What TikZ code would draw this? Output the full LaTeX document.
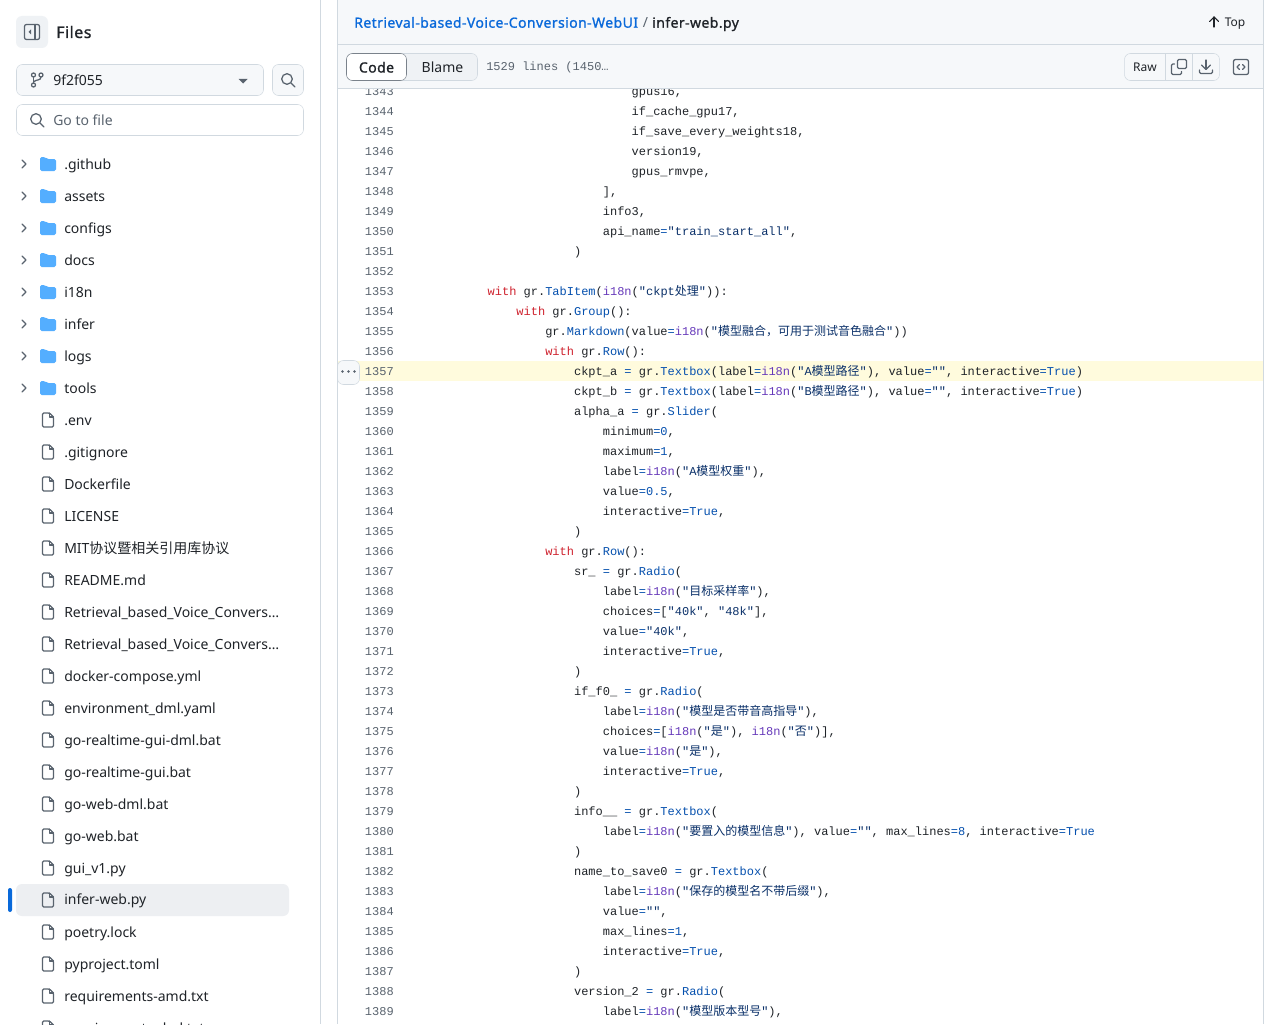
\documentclass[tikz,border=0pt]{standalone}
\usepackage{fontspec}
\setmainfont{Noto Sans}
\setmonofont{Liberation Mono}
\newfontfamily\cjk{Noto Sans CJK SC}
\newfontfamily\heavy[FakeBold=1.1,LetterSpace=3]{Noto Sans}
\definecolor{ink}{HTML}{1F2328}
\definecolor{muted}{HTML}{59636E}
\definecolor{edge}{HTML}{D1D9E0}
\definecolor{panel}{HTML}{F6F8FA}
\definecolor{press}{HTML}{EFF2F5}
\definecolor{linkblue}{HTML}{0969DA}
\definecolor{folderblue}{HTML}{54AEFF}
\definecolor{selected}{HTML}{EDEFF2}
\definecolor{hilite}{HTML}{FFFBDD}
\definecolor{kwdred}{HTML}{CF222E}
\definecolor{fncblue}{HTML}{0550AE}
\definecolor{strblue}{HTML}{0A3069}
\definecolor{itnpurple}{HTML}{6639BA}
\newcommand{\kwd}[1]{\textcolor{kwdred}{#1}}
\newcommand{\fnc}[1]{\textcolor{fncblue}{#1}}
\newcommand{\txt}[1]{\textcolor{strblue}{#1}}
\newcommand{\itn}{\textcolor{itnpurple}{i18n}}
\newcommand{\eqs}{\textcolor{fncblue}{=}}
\newcommand{\zh}[1]{{\cjk #1}}
\def\codeline(#1:#2)#3{
	\node[lineno] (num#1) at (394, {(#1-1344)*20+115}) {#1};
	\node[codetext] (code#1) at ({401+7.2*#2}, {(#1-1344)*20+115}) {#3};
}
\tikzset{
	x=0.75pt, y=-0.75pt,
	lineno/.style={anchor=base east, inner sep=0pt, font=\ttfamily\fontsize{9pt}{11pt}\selectfont, text=muted},
	codetext/.style={anchor=base west, inner sep=0pt, font=\ttfamily\fontsize{9pt}{11pt}\selectfont, text=ink},
	sidetext/.style={anchor=base west, inner sep=0pt, font=\fontsize{10.5pt}{13pt}\selectfont, text=ink},
	strongtext/.style={anchor=base west, inner sep=0pt, font=\heavy\fontsize{10.5pt}{13pt}\selectfont, text=ink},
	smalltext/.style={anchor=base, inner sep=0pt, font=\fontsize{9pt}{11pt}\selectfont, text=ink},
	glyph/.style={draw=muted, line width=0.95pt, line cap=round, line join=round},
	fileicon/.pic={
		\draw[glyph, rounded corners=0.9pt] (-5.5,-7) -- (1.5,-7) -- (5.5,-3) -- (5.5,7) -- (-5.5,7) -- cycle;
		\draw[glyph] (1.5,-7) -- (1.5,-3) -- (5.5,-3);
	},
	foldericon/.pic={
		\fill[folderblue, rounded corners=1.2pt] (-8,-7) -- (-3,-7) -- (-1,-5) -- (8,-5) -- (8,7) -- (-8,7) -- cycle;
	},
	chevronicon/.pic={
		\draw[glyph] (-2,-4) -- (2,0) -- (-2,4);
	},
	searchicon/.pic={
		\draw[glyph] (-1,-1) circle (5.3);
		\draw[glyph] (3,3) -- (7,7);
	},
}
\begin{document}
\begin{tikzpicture}
	%%%%% START %%%%%
	\clip (0, 0) rectangle (1280, 1024);
	\fill[white] (0, 0) rectangle (1280, 1024);

	% code body
	\fill[hilite] (338, 361) rectangle (1263, 381);
	\codeline(1343:32){gpus16,}
	\codeline(1344:32){if\_cache\_gpu17,}
	\codeline(1345:32){if\_save\_every\_weights18,}
	\codeline(1346:32){version19,}
	\codeline(1347:32){gpus\_rmvpe,}
	\codeline(1348:28){],}
	\codeline(1349:28){info3,}
	\codeline(1350:28){api\_name\eqs\txt{"train\_start\_all"},}
	\codeline(1351:24){)}
	\node[lineno] (num1352) at (394, 275) {1352};
	\codeline(1353:12){\kwd{with} gr.\fnc{TabItem}(\itn(\txt{"ckpt\zh{处理}"})):}
	\codeline(1354:16){\kwd{with} gr.\fnc{Group}():}
	\codeline(1355:20){gr.\fnc{Markdown}(value\eqs\itn(\txt{"\zh{模型融合，可用于测试音色融合}"}))}
	\codeline(1356:20){\kwd{with} gr.\fnc{Row}():}
	\codeline(1357:24){ckpt\_a \eqs{} gr.\fnc{Textbox}(label\eqs\itn(\txt{"A\zh{模型路径}"}), value\eqs\txt{""}, interactive\eqs\fnc{True})}
	\codeline(1358:24){ckpt\_b \eqs{} gr.\fnc{Textbox}(label\eqs\itn(\txt{"B\zh{模型路径}"}), value\eqs\txt{""}, interactive\eqs\fnc{True})}
	\codeline(1359:24){alpha\_a \eqs{} gr.\fnc{Slider}(}
	\codeline(1360:28){minimum\eqs\fnc{0},}
	\codeline(1361:28){maximum\eqs\fnc{1},}
	\codeline(1362:28){label\eqs\itn(\txt{"A\zh{模型权重}"}),}
	\codeline(1363:28){value\eqs\fnc{0.5},}
	\codeline(1364:28){interactive\eqs\fnc{True},}
	\codeline(1365:24){)}
	\codeline(1366:20){\kwd{with} gr.\fnc{Row}():}
	\codeline(1367:24){sr\_ \eqs{} gr.\fnc{Radio}(}
	\codeline(1368:28){label\eqs\itn(\txt{"\zh{目标采样率}"}),}
	\codeline(1369:28){choices\eqs[\txt{"40k"}, \txt{"48k"}],}
	\codeline(1370:28){value\eqs\txt{"40k"},}
	\codeline(1371:28){interactive\eqs\fnc{True},}
	\codeline(1372:24){)}
	\codeline(1373:24){if\_f0\_ \eqs{} gr.\fnc{Radio}(}
	\codeline(1374:28){label\eqs\itn(\txt{"\zh{模型是否带音高指导}"}),}
	\codeline(1375:28){choices\eqs[\itn(\txt{"\zh{是}"}), \itn(\txt{"\zh{否}"})],}
	\codeline(1376:28){value\eqs\itn(\txt{"\zh{是}"}),}
	\codeline(1377:28){interactive\eqs\fnc{True},}
	\codeline(1378:24){)}
	\codeline(1379:24){info\_\_ \eqs{} gr.\fnc{Textbox}(}
	\codeline(1380:28){label\eqs\itn(\txt{"\zh{要置入的模型信息}"}), value\eqs\txt{""}, max\_lines\eqs\fnc{8}, interactive\eqs\fnc{True}}
	\codeline(1381:24){)}
	\codeline(1382:24){name\_to\_save0 \eqs{} gr.\fnc{Textbox}(}
	\codeline(1383:28){label\eqs\itn(\txt{"\zh{保存的模型名不带后缀}"}),}
	\codeline(1384:28){value\eqs\txt{""},}
	\codeline(1385:28){max\_lines\eqs\fnc{1},}
	\codeline(1386:28){interactive\eqs\fnc{True},}
	\codeline(1387:24){)}
	\codeline(1388:24){version\_2 \eqs{} gr.\fnc{Radio}(}
	\codeline(1389:28){label\eqs\itn(\txt{"\zh{模型版本型号}"}),}

	% line menu button
	\draw[edge, fill=panel, rounded corners=4.5pt] (337.5, 360.5) rectangle (359.5, 384.5);
	\foreach \dotx in {342.5, 348.5, 354.5}
		\fill[muted] (\dotx, 371.5) circle (1.3);

	% header bars
	\fill[panel] (338, 0) rectangle (1263, 88);
	\draw[edge] (338, 44.5) -- (1263, 44.5);
	\draw[edge] (338, 88.5) -- (1263, 88.5);
	\draw[edge] (337.5, 0) -- (337.5, 1024);
	\draw[edge] (1263.5, 0) -- (1263.5, 1024);
	\draw[edge] (320.5, 0) -- (320.5, 1024);

	\node[strongtext, text=linkblue] (repolink) at (354, 27.7) {Retrieval-based-Voice-Conversion-WebUI};
	\node[sidetext, text=muted] (crumbsep) at (642.5, 27.7) {/};
	\node[strongtext] (crumbfile) at (652, 27.7) {infer-web.py};
	\draw[glyph, draw=ink, line width=0.8pt] (1214, 27) -- (1214, 17);
	\draw[glyph, draw=ink, line width=0.8pt] (1209.5, 21.5) -- (1214, 17) -- (1218.5, 21.5);
	\node[smalltext] (toplink) at (1235, 26.5) {Top};

	% toolbar
	\draw[edge, fill=press, rounded corners=4.5pt] (346.5, 53.5) rectangle (477.5, 80.5);
	\draw[draw=muted!80, fill=white, rounded corners=4.5pt] (346.5, 53.5) rectangle (406.5, 80.5);
	\node[strongtext, anchor=base] (codetab) at (376.5, 72.5) {Code};
	\node[sidetext, anchor=base] (blametab) at (442.5, 72.5) {Blame};
	\node[codetext, text=muted] (filesize) at (486, 70) {1529 lines (1450…};

	\draw[edge, fill=panel, rounded corners=4.5pt] (1124.5, 53.5) rectangle (1219.5, 80.5);
	\draw[edge] (1165.5, 53.5) -- (1165.5, 80.5);
	\draw[edge] (1192.5, 53.5) -- (1192.5, 80.5);
	\node[smalltext] (rawbtn) at (1145, 71) {Raw};
	\draw[glyph, rounded corners=1pt] (1177.5, 59.5) rectangle (1186.5, 68.5);
	\draw[glyph, rounded corners=1pt] (1174.5, 64) -- (1171.5, 64) -- (1171.5, 74.5) -- (1181.5, 74.5) -- (1181.5, 71.5);
	\draw[glyph] (1206, 60) -- (1206, 69);
	\draw[glyph] (1201.5, 65) -- (1206, 69.5) -- (1210.5, 65);
	\draw[glyph, rounded corners=1pt] (1199.5, 70) -- (1199.5, 73.5) -- (1212.5, 73.5) -- (1212.5, 70);
	\draw[glyph, rounded corners=1.5pt] (1233.5, 59.5) rectangle (1248.5, 74.5);
	\draw[glyph] (1239.5, 64.5) -- (1237, 67) -- (1239.5, 69.5);
	\draw[glyph] (1242.5, 64.5) -- (1245, 67) -- (1242.5, 69.5);

	% sidebar top
	\fill[press, rounded corners=4.5pt] (16, 16) rectangle (48, 48);
	\draw[glyph, rounded corners=1.5pt] (24.5, 24.5) rectangle (39.5, 39.5);
	\draw[glyph] (35, 24.5) -- (35, 39.5);
	\fill[muted] (31, 29.5) -- (31, 34.5) -- (28.5, 32) -- cycle;
	\node[strongtext, font=\heavy\fontsize{12pt}{14pt}\selectfont] (filestitle) at (56, 38) {Files};

	\draw[edge, fill=panel, rounded corners=4.5pt] (16.5, 64.5) rectangle (263.5, 95.5);
	\draw[glyph] (33.5, 77) -- (33.5, 83.5);
	\draw[glyph] (33.5, 75) circle (2);
	\draw[glyph] (33.5, 85) circle (2);
	\draw[glyph] (41, 75) circle (2);
	\draw[glyph] (41, 77) .. controls (41, 81) and (36, 79) .. (33.5, 82);
	\node[sidetext] (branchname) at (53, 85) {9f2f055};
	\fill[muted] (238.5, 79) -- (247.5, 79) -- (243, 83.5) -- cycle;

	\draw[edge, fill=panel, rounded corners=4.5pt] (272.5, 64.5) rectangle (303.5, 95.5);
	\pic at (288, 80) {searchicon};

	\draw[edge, fill=white, rounded corners=4.5pt] (16.5, 104.5) rectangle (303.5, 135.5);
	\pic at (37, 120) {searchicon};
	\node[sidetext, text=muted] (gotofile) at (53, 125) {Go to file};

	% file tree
	\fill[selected, rounded corners=4.5pt] (16, 884) rectangle (289, 916);
	\fill[linkblue, rounded corners=1.5pt] (8, 888) rectangle (12, 912);
	\foreach \rowy/\rowname in {164/.github, 196/assets, 228/configs, 260/docs, 292/i18n, 324/infer, 356/logs, 388/tools}{
		\pic at (24, \rowy) {chevronicon};
		\pic at (48, \rowy) {foldericon};
		\node[sidetext] (item\rowy) at (64, \rowy+5) {\rowname};
	}
	\foreach \rowy/\rowname in {420/.env, 452/.gitignore, 484/Dockerfile, 516/LICENSE, 548/{MIT\zh{协议暨相关引用库协议}}, 580/README.md, 612/Retrieval\_based\_Voice\_Convers…, 644/Retrieval\_based\_Voice\_Convers…, 676/docker-compose.yml, 708/environment\_dml.yaml, 740/go-realtime-gui-dml.bat, 772/go-realtime-gui.bat, 804/go-web-dml.bat, 836/go-web.bat, 868/gui\_v1.py, 932/poetry.lock, 964/pyproject.toml, 996/requirements-amd.txt, 1028/requirements-dml.txt}{
		\pic at (48, \rowy) {fileicon};
		\node[sidetext] (item\rowy) at (64, \rowy+5) {\rowname};
	}
	\pic at (48, 900) {fileicon};
	\node[sidetext] (item900) at (64, 904) {infer-web.py};
	%%%%% END %%%%%
\end{tikzpicture}
\end{document}
